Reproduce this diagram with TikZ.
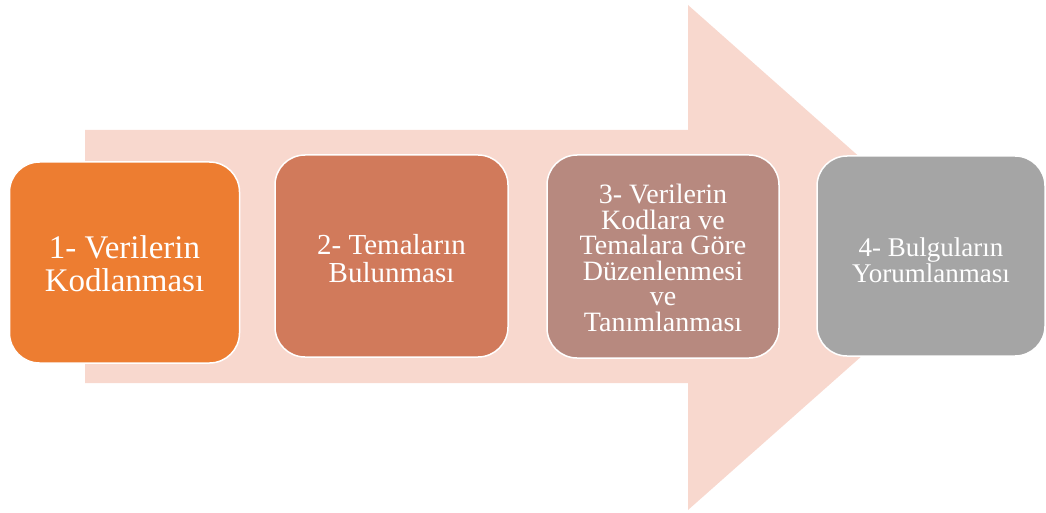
\documentclass[tikz,border=0pt]{standalone}
\usepackage{fontspec}
\setmainfont{Liberation Serif}
\definecolor{arrowfill}{HTML}{F8D8CE}
\definecolor{cone}{HTML}{ED7D31}
\definecolor{ctwo}{HTML}{D17A5B}
\definecolor{cthree}{HTML}{B7897F}
\definecolor{cfour}{HTML}{A5A5A5}
\tikzset{
  stepbox/.style={draw=white, line width=1.5pt, rounded corners=30pt, inner sep=0pt, align=center, text=white},
}
\begin{document}
\begin{tikzpicture}[x=1pt,y=-1pt]
\useasboundingbox (0,0) rectangle (1046,513);
% big arrow
\fill[arrowfill] (85,130) -- (688,130) -- (688,5) -- (973,257.5) -- (688,510) -- (688,383) -- (85,383) -- cycle;
% boxes
\node[stepbox, fill=cone, minimum width=230pt, minimum height=201pt] (b1) at (124.5,262.5) {};
\node[stepbox, fill=ctwo, minimum width=233pt, minimum height=202pt] (b2) at (391.5,256) {};
\node[stepbox, fill=cthree, minimum width=232pt, minimum height=203pt] (b3) at (663,256.5) {};
\node[stepbox, fill=cfour, minimum width=228pt, minimum height=200pt] (b4) at (931,256) {};
% texts
\node[text=white, align=center, font=\fontsize{33}{33}\selectfont] (t1) at (124.5,264) {1- Verilerin\\Kodlanması};
\node[text=white, align=center, font=\fontsize{29}{28}\selectfont] (t2) at (391.5,259) {2- Temaların\\Bulunması};
\node[text=white, align=center, font=\fontsize{28}{25.5}\selectfont] (t3) at (663,258) {3- Verilerin\\Kodlara ve\\Temalara Göre\\Düzenlenmesi\\ve\\Tanımlanması};
\node[text=white, align=center, font=\fontsize{27}{26}\selectfont] (t4) at (931,260) {4- Bulguların\\Yorumlanması};
\end{tikzpicture}
\end{document}
